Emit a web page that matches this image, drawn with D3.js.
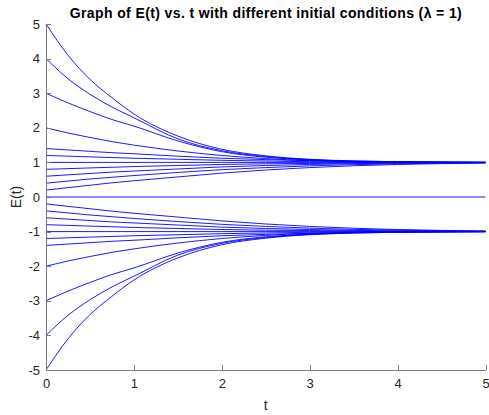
<!DOCTYPE html>
<html>
<head>
  <meta charset="utf-8">
  <script src="https://cdn.jsdelivr.net/npm/d3@7/dist/d3.min.js"></script>
  <style>
    body {margin:0; background:#fff;}
    svg {font-family: "Liberation Sans", Arial, Helvetica, sans-serif;}
    .axis path, .axis line {stroke: #7a7a7a; shape-rendering: crispEdges;}
    .axis text {fill: #262626; font-size: 13px;}
    .curve {fill: none; stroke: #0000ff; stroke-width: 0.9;}
  </style>
</head>
<body>
<script>
// sample times (values at these t)
const tSamples = [0, 0.25, 0.5, 0.75, 1, 1.5, 2, 2.5, 3, 4, 5];

// curves starting above zero
const upperCurves = [
  [5, 4.1, 3.4, 2.87, 2.4, 1.76, 1.38, 1.19, 1.09, 1.02, 1.0],
  [4, 3.42, 2.97, 2.6, 2.29, 1.68, 1.34, 1.17, 1.08, 1.02, 1.0],
  [3, 2.72, 2.47, 2.24, 2.05, 1.62, 1.31, 1.15, 1.07, 1.01, 1.0],
  [2, 1.85, 1.72, 1.6, 1.5, 1.33, 1.2, 1.11, 1.05, 1.01, 1.0],
  [1.4, 1.36, 1.32, 1.28, 1.25, 1.18, 1.12, 1.08, 1.05, 1.01, 1.0],
  [1.2, 1.18, 1.16, 1.14, 1.12, 1.09, 1.06, 1.04, 1.02, 1.005, 1.0],
  [1, 1, 1, 1, 1, 1, 1, 1, 1, 1, 1],
  [0.8, 0.82, 0.84, 0.86, 0.88, 0.91, 0.94, 0.96, 0.97, 0.99, 1.0],
  [0.6, 0.64, 0.68, 0.72, 0.75, 0.81, 0.87, 0.91, 0.94, 0.98, 0.995],
  [0.4, 0.46, 0.52, 0.57, 0.62, 0.71, 0.79, 0.85, 0.9, 0.96, 0.99],
  [0.2, 0.27, 0.34, 0.41, 0.47, 0.58, 0.69, 0.78, 0.85, 0.94, 0.98]
];

const zeroCurve = [0, 0, 0, 0, 0, 0, 0, 0, 0, 0, 0];

// curves starting below zero
const lowerCurves = [
  [-0.2, -0.27, -0.34, -0.41, -0.47, -0.58, -0.69, -0.78, -0.85, -0.94, -0.98],
  [-0.4, -0.46, -0.52, -0.57, -0.62, -0.71, -0.79, -0.85, -0.9, -0.96, -0.99],
  [-0.6, -0.64, -0.68, -0.72, -0.75, -0.81, -0.87, -0.91, -0.94, -0.98, -0.995],
  [-0.8, -0.82, -0.84, -0.86, -0.88, -0.91, -0.94, -0.96, -0.97, -0.99, -1.0],
  [-1, -1, -1, -1, -1, -1, -1, -1, -1, -1, -1],
  [-1.2, -1.18, -1.16, -1.14, -1.12, -1.09, -1.06, -1.04, -1.02, -1.005, -1.0],
  [-1.4, -1.36, -1.32, -1.28, -1.25, -1.18, -1.12, -1.08, -1.05, -1.01, -1.0],
  [-2, -1.85, -1.72, -1.6, -1.5, -1.33, -1.2, -1.11, -1.05, -1.01, -1.0],
  [-3, -2.72, -2.47, -2.24, -2.05, -1.62, -1.31, -1.15, -1.07, -1.01, -1.0],
  [-4, -3.42, -2.97, -2.6, -2.29, -1.68, -1.34, -1.17, -1.08, -1.02, -1.0],
  [-5, -4.1, -3.4, -2.87, -2.4, -1.76, -1.38, -1.19, -1.09, -1.02, -1.0]
];

const xTicks = [0, 1, 2, 3, 4, 5];
const yTicks = [-5, -4, -3, -2, -1, 0, 1, 2, 3, 4, 5];

const titleText = "Graph of E(t) vs. t with different initial conditions (\u03bb = 1)";

const width = 489, height = 415;
const plotLeft = 46, plotRight = 485.5, plotTop = 24, plotBottom = 370;

const svg = d3.select("body").append("svg")
  .attr("width", width)
  .attr("height", height);

const x = d3.scaleLinear().domain([0, 5]).range([plotLeft, plotRight]);
const y = d3.scaleLinear().domain([-5, 5]).range([plotBottom, plotTop]);

const line = d3.line()
  .x((d, i) => x(tSamples[i]))
  .y(d => y(d))
  .curve(d3.curveMonotoneX);

const allCurves = upperCurves.concat([zeroCurve], lowerCurves);

svg.append("g")
  .selectAll("path")
  .data(allCurves)
  .join("path")
  .attr("class", "curve")
  .attr("d", line);

// MATLAB style axes: ticks pointing inward, no box, plain hyphen minus
const plainNum = d => String(d);

svg.append("g")
  .attr("class", "axis")
  .attr("transform", `translate(0,${plotBottom})`)
  .call(d3.axisBottom(x).tickValues(xTicks).tickFormat(plainNum)
    .tickSizeInner(-5).tickSizeOuter(0).tickPadding(9))
  .call(g => g.selectAll("text").attr("font-size", null));

svg.append("g")
  .attr("class", "axis")
  .attr("transform", `translate(${plotLeft},0)`)
  .call(d3.axisLeft(y).tickValues(yTicks).tickFormat(plainNum)
    .tickSizeInner(-5).tickSizeOuter(0).tickPadding(6))
  .call(g => g.selectAll("text").attr("font-size", null));

svg.selectAll(".axis").attr("font-family", null);

svg.append("text")
  .attr("x", (plotLeft + plotRight) / 2)
  .attr("y", 410)
  .attr("text-anchor", "middle")
  .attr("font-size", 14)
  .attr("fill", "#262626")
  .text("t");

svg.append("text")
  .attr("transform", `translate(21,${(plotTop + plotBottom) / 2}) rotate(-90)`)
  .attr("text-anchor", "middle")
  .attr("font-size", 14)
  .attr("fill", "#262626")
  .text("E(t)");

svg.append("text")
  .attr("x", (plotLeft + plotRight) / 2)
  .attr("y", 18)
  .attr("text-anchor", "middle")
  .attr("font-size", 14)
  .attr("font-weight", "bold")
  .attr("textLength", 392)
  .attr("lengthAdjust", "spacing")
  .attr("fill", "#000")
  .text(titleText);
</script>
</body>
</html>
